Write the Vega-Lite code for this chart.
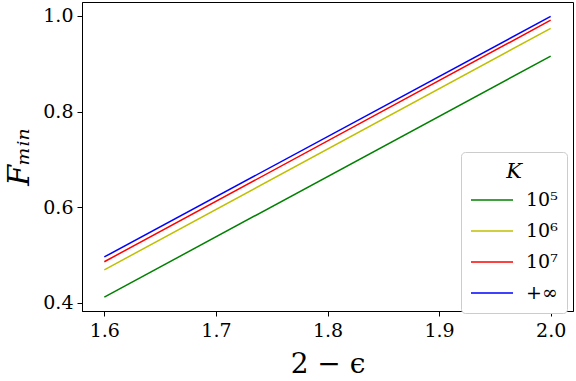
{
  "$schema": "https://vega.github.io/schema/vega-lite/v6.json",
  "autosize": "none",
  "padding": {"left": 82, "top": 2, "right": 3, "bottom": 70},
  "width": 491,
  "height": 309,
  "background": "white",
  "config": {
    "view": {"stroke": "black", "strokeWidth": 1},
    "font": "DejaVu Serif"
  },
  "data": {
    "values": [
      {"x": 1.6, "F": 0.412, "K": "10⁵"},
      {"x": 2.0, "F": 0.916, "K": "10⁵"},
      {"x": 1.6, "F": 0.469, "K": "10⁶"},
      {"x": 2.0, "F": 0.974, "K": "10⁶"},
      {"x": 1.6, "F": 0.486, "K": "10⁷"},
      {"x": 2.0, "F": 0.991, "K": "10⁷"},
      {"x": 1.6, "F": 0.496, "K": "+∞"},
      {"x": 2.0, "F": 0.999, "K": "+∞"}
    ]
  },
  "mark": {"type": "line", "strokeWidth": 1.5},
  "encoding": {
    "x": {
      "field": "x", "type": "quantitative",
      "scale": {"domain": [1.58, 2.02], "nice": false, "zero": false},
      "axis": {
        "title": "2 − ϵ", "titleFont": "DejaVu Serif", "titleFontSize": 28, "titleFontWeight": "normal",
        "titleColor": "black", "titlePadding": 10,
        "values": [1.6, 1.7, 1.8, 1.9, 2.0], "format": ".1f",
        "labelFont": "DejaVu Serif", "labelFontSize": 19, "labelColor": "black", "labelPadding": 5,
        "tickColor": "black", "tickSize": 5, "domainColor": "black", "grid": false
      }
    },
    "y": {
      "field": "F", "type": "quantitative",
      "scale": {"domain": [0.383, 1.029], "nice": false, "zero": false},
      "axis": {
        "title": "Fₘᵢₙ", "titleFont": "DejaVu Serif", "titleFontSize": 30, "titleFontWeight": "normal",
        "titleFontStyle": "italic", "titleColor": "black", "titlePadding": 8,
        "values": [0.4, 0.6, 0.8, 1.0], "format": ".1f",
        "labelFont": "DejaVu Serif", "labelFontSize": 19, "labelColor": "black", "labelPadding": 4,
        "tickColor": "black", "tickSize": 5, "domainColor": "black", "grid": false
      }
    },
    "color": {
      "field": "K", "type": "nominal",
      "sort": ["10⁵", "10⁶", "10⁷", "+∞"],
      "scale": {"domain": ["10⁵", "10⁶", "10⁷", "+∞"], "range": ["#008000", "#bfbf00", "#ff0000", "#0000ff"]},
      "legend": {
        "title": "K", "titleFont": "DejaVu Serif", "titleFontStyle": "italic", "titleFontWeight": "normal",
        "titleFontSize": 21, "titleColor": "black", "titleAlign": "center", "titleAnchor": "middle",
        "titlePadding": 7,
        "orient": "none", "legendX": 379, "legendY": 150,
        "labelFont": "DejaVu Serif", "labelFontSize": 19, "labelColor": "black", "labelOffset": 12,
        "symbolType": "stroke", "symbolSize": 1764, "symbolStrokeWidth": 1.5,
        "clipHeight": 22,
        "rowPadding": 9,
        "padding": 9,
        "strokeColor": "#cccccc", "fillColor": "white", "cornerRadius": 4
      }
    }
  }
}
